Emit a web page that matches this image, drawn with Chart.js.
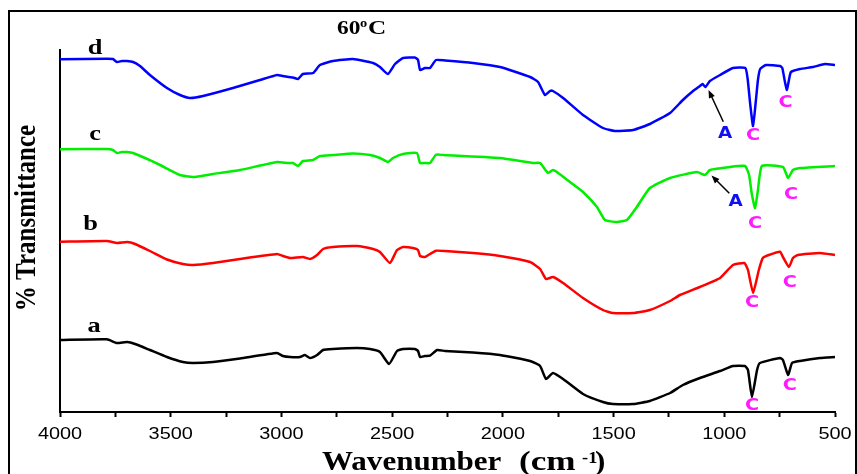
<!DOCTYPE html>
<html>
<head>
<meta charset="utf-8">
<script src="https://cdn.jsdelivr.net/npm/chart.js@4/dist/chart.umd.min.js"></script>
<style>
  html, body { margin: 0; padding: 0; background: #fff; }
  #wrap { width: 857px; height: 474px; }
</style>
</head>
<body>
<div id="wrap"><canvas id="ftir" width="857" height="474"></canvas></div>
<script>
// FTIR spectra at 60 °C, vertically offset; each pair is [wavenumber (cm-1), %T (offset a.u.)]
const curveA = [[4000,72],[3788,72.7],[3743,69],[3697,70],[3661,68],[3594,62],[3517,55],[3445,50],[3399,49],[3309,50],[3187,53.5],[3020,59],[2993,56],[2961,55],[2916,55],[2894,57],[2871,54],[2839,57],[2812,62],[2767,63],[2659,64],[2600,63],[2555,60],[2514,48],[2478,61],[2451,63],[2397,63],[2383,61],[2374,55],[2352,56],[2329,56.3],[2297,62],[2261,61],[2135,59.5],[2013,57],[1877,51],[1832,46],[1805,33],[1774,39],[1728,33],[1638,18],[1548,10],[1503,8],[1412,8],[1336,11],[1245,19],[1187,27],[1110,34],[1019,41],[961,46],[907,46],[893,42],[875,15],[852,42],[839,49],[748,54],[735,52],[712,37],[694,49],[658,51],[568,54],[500,55]];
const curveB = [[4000,170.3],[3788,171],[3743,169],[3697,170],[3661,168],[3594,161],[3517,152.5],[3445,148],[3399,147],[3309,149],[3187,153],[3020,158],[2993,156],[2961,154],[2903,155],[2871,153],[2839,157],[2812,163],[2767,165],[2659,166],[2586,163],[2555,160],[2510,149],[2478,162],[2451,165],[2406,164],[2383,162],[2374,156],[2352,155],[2329,158],[2302,161.3],[2261,161],[2135,159],[2013,156],[1877,150],[1832,143],[1805,133],[1774,135],[1728,129],[1638,114],[1548,102],[1503,99],[1412,99],[1336,102],[1245,111],[1200,117],[1110,125],[1019,134],[961,147],[909,149],[893,142],[870,119],[844,142],[826,154],[799,157],[748,160.3],[735,155],[708,145],[690,154],[668,157],[568,159],[500,157]];
const curveC = [[4000,262.7],[3788,263],[3761,262],[3743,259],[3720,260],[3697,260],[3670,259],[3616,254],[3548,247],[3458,237],[3399,235],[3309,238],[3187,242],[3020,250],[2970,249],[2948,249],[2925,246],[2903,251],[2857,252],[2826,256],[2767,257],[2677,258.5],[2600,257],[2555,254],[2519,250],[2496,254],[2451,258],[2388,259],[2374,249],[2352,249],[2329,249],[2302,257.3],[2270,257],[2013,254],[1864,249],[1832,249],[1796,239],[1774,242],[1756,240],[1697,230],[1638,220],[1575,205],[1539,192],[1485,190],[1440,192],[1395,205],[1336,224],[1245,234],[1123,240],[1087,237],[1065,242],[974,245],[906,246],[888,237],[875,217],[861,204],[848,222],[830,246],[735,245],[712,234],[690,242],[658,244],[500,246]];
const curveD = [[4000,352.7],[3788,353.3],[3761,353],[3743,350],[3720,351],[3697,351],[3670,350],[3639,346],[3594,337],[3517,324],[3458,317],[3413,314],[3354,316],[3219,324],[3097,332],[3020,337],[2993,336],[2948,334.5],[2925,333],[2903,338],[2857,339],[2826,347],[2767,351],[2677,353],[2586,349],[2555,345],[2519,338],[2487,348],[2451,354],[2397,354.5],[2383,352],[2374,342],[2352,344],[2329,344],[2302,352],[2261,351.5],[2135,349],[2013,345],[1877,335],[1841,330],[1810,317],[1787,321],[1774,321],[1728,314],[1638,297],[1548,284],[1494,281],[1412,282],[1336,288],[1245,299],[1187,312],[1141,321],[1110,326],[1098,328],[1085,325],[1065,331],[1019,337],[961,344],[905,344],[895,334],[882,306],[870,286],[858,310],[848,332],[838,343],[812,347],[748,346],[738,344],[726,330],[717,322],[708,332],[699,340],[658,343],[599,345],[545,348],[500,347]];

const curveNames = ['a', 'b', 'c', 'd'];
const curveColors = ['#000000', '#ff0000', '#00ee00', '#0000ff'];
const xTickLabels = [4000, 3500, 3000, 2500, 2000, 1500, 1000, 500];

const toPoints = arr => arr.map(([x, y]) => ({ x, y }));

// Text helper: horizontally widened glyphs, like the original figure lettering
function drawText(ctx, s, x, y, font, color, sx, align) {
  ctx.save();
  ctx.font = font;
  ctx.fillStyle = color;
  ctx.textAlign = align || 'center';
  ctx.textBaseline = 'alphabetic';
  ctx.translate(x, y);
  ctx.scale(sx, 1);
  ctx.fillText(s, 0, 0);
  ctx.restore();
}

function drawArrow(ctx, x1, y1, x2, y2) {
  const ang = Math.atan2(y2 - y1, x2 - x1);
  const head = 8, half = 3.2;
  ctx.save();
  ctx.strokeStyle = '#000';
  ctx.fillStyle = '#000';
  ctx.lineWidth = 1.5;
  ctx.beginPath();
  ctx.moveTo(x1, y1);
  ctx.lineTo(x2 - Math.cos(ang) * head * 0.8, y2 - Math.sin(ang) * head * 0.8);
  ctx.stroke();
  ctx.beginPath();
  ctx.moveTo(x2, y2);
  ctx.lineTo(x2 - Math.cos(ang) * head - Math.sin(ang) * half, y2 - Math.sin(ang) * head + Math.cos(ang) * half);
  ctx.lineTo(x2 - Math.cos(ang) * head + Math.sin(ang) * half, y2 - Math.sin(ang) * head - Math.cos(ang) * half);
  ctx.closePath();
  ctx.fill();
  ctx.restore();
}

const SERIF = '"Liberation Serif", "Times New Roman", serif';
const SANS = '"Liberation Sans", Arial, sans-serif';
const MARK = '"DejaVu Sans", Verdana, sans-serif';
const MAGENTA = '#ff1aff';
const BLUE_TXT = '#1010f0';

const decorations = {
  id: 'decorations',
  afterDraw(chart) {
    const ctx = chart.ctx;
    const xs = chart.scales.x;

    // outer frame
    ctx.save();
    ctx.strokeStyle = '#000';
    ctx.lineWidth = 2;
    ctx.strokeRect(9, 11, 847, 480);
    ctx.restore();

    // x tick labels
    xTickLabels.forEach(v => {
      drawText(ctx, String(v), xs.getPixelForValue(v), 439, '17px ' + SANS, '#000', 1.17, 'center');
    });

    // x axis title
    drawText(ctx, 'Wavenumber', 322, 470, 'bold 27px ' + SERIF, '#000', 1.15, 'left');
    drawText(ctx, '(cm', 519, 470, 'bold 27px ' + SERIF, '#000', 1.3, 'left');
    drawText(ctx, '-1', 582, 463, 'bold 16px ' + SERIF, '#000', 1.15, 'left');
    drawText(ctx, ')', 595, 470, 'bold 27px ' + SERIF, '#000', 1.15, 'left');

    // y axis title (rotated)
    ctx.save();
    ctx.font = 'bold 25px ' + SERIF;
    ctx.fillStyle = '#000';
    ctx.textAlign = 'center';
    ctx.textBaseline = 'alphabetic';
    ctx.translate(35, 218);
    ctx.scale(1.15, 1);
    ctx.rotate(-Math.PI / 2);
    ctx.fillText('% Transmittance', 0, 0);
    ctx.restore();

    // heading
    drawText(ctx, '60', 337, 34, 'bold 18px ' + SERIF, '#000', 1.3, 'left');
    drawText(ctx, 'o', 360, 27, 'bold 12px ' + SERIF, '#000', 1.2, 'left');
    drawText(ctx, 'C', 368, 34, 'bold 18px ' + SERIF, '#000', 1.4, 'left');

    // curve letters
    const letterPos = [[94, 332], [90.5, 230], [95, 140], [95, 54]];
    curveNames.forEach((n, i) => {
      drawText(ctx, n, letterPos[i][0], letterPos[i][1], 'bold 22px ' + SERIF, '#000', 1.2, 'center');
    });

    // band markers
    const cFont = 'bold 16px ' + MARK;
    [[752, 410], [789.7, 390], [752, 307.3], [789.7, 286.7], [755, 228], [791, 199.3], [753, 140], [785.5, 106.7]]
      .forEach(([x, y]) => drawText(ctx, 'C', x, y, cFont, MAGENTA, 1.2, 'center'));
    drawText(ctx, 'A', 735.5, 206, cFont, BLUE_TXT, 1.15, 'center');
    drawText(ctx, 'A', 725, 137.7, cFont, BLUE_TXT, 1.15, 'center');
    drawArrow(ctx, 729.3, 193.3, 711.5, 175.5);
    drawArrow(ctx, 723.3, 121.7, 708.5, 90);
  }
};

const allCurves = [curveA, curveB, curveC, curveD];

new Chart(document.getElementById('ftir'), {
  type: 'line',
  data: {
    datasets: allCurves.map((c, i) => ({
      label: curveNames[i],
      data: toPoints(c),
      borderColor: curveColors[i],
      borderWidth: 2.5,
      pointRadius: 0,
      tension: 0.15,
      fill: false
    }))
  },
  options: {
    responsive: false,
    animation: false,
    devicePixelRatio: 1,
    layout: { padding: { left: 0, top: 50, right: 22, bottom: 0 } },
    plugins: { legend: { display: false }, tooltip: { enabled: false } },
    scales: {
      x: {
        type: 'linear',
        reverse: true,
        min: 500,
        max: 4000,
        afterFit(s) { s.height = 62; },
        ticks: { stepSize: 250, autoSkip: false, maxRotation: 0, callback: () => '' },
        grid: { drawOnChartArea: false, drawTicks: true, tickLength: 5, tickWidth: 2, color: '#000' },
        border: { display: true, width: 2, color: '#000' }
      },
      y: {
        min: 0,
        max: 362,
        afterFit(s) { s.width = 60; },
        ticks: { display: false },
        grid: { display: false },
        border: { display: true, width: 2, color: '#000' }
      }
    }
  },
  plugins: [decorations]
});
</script>
</body>
</html>
